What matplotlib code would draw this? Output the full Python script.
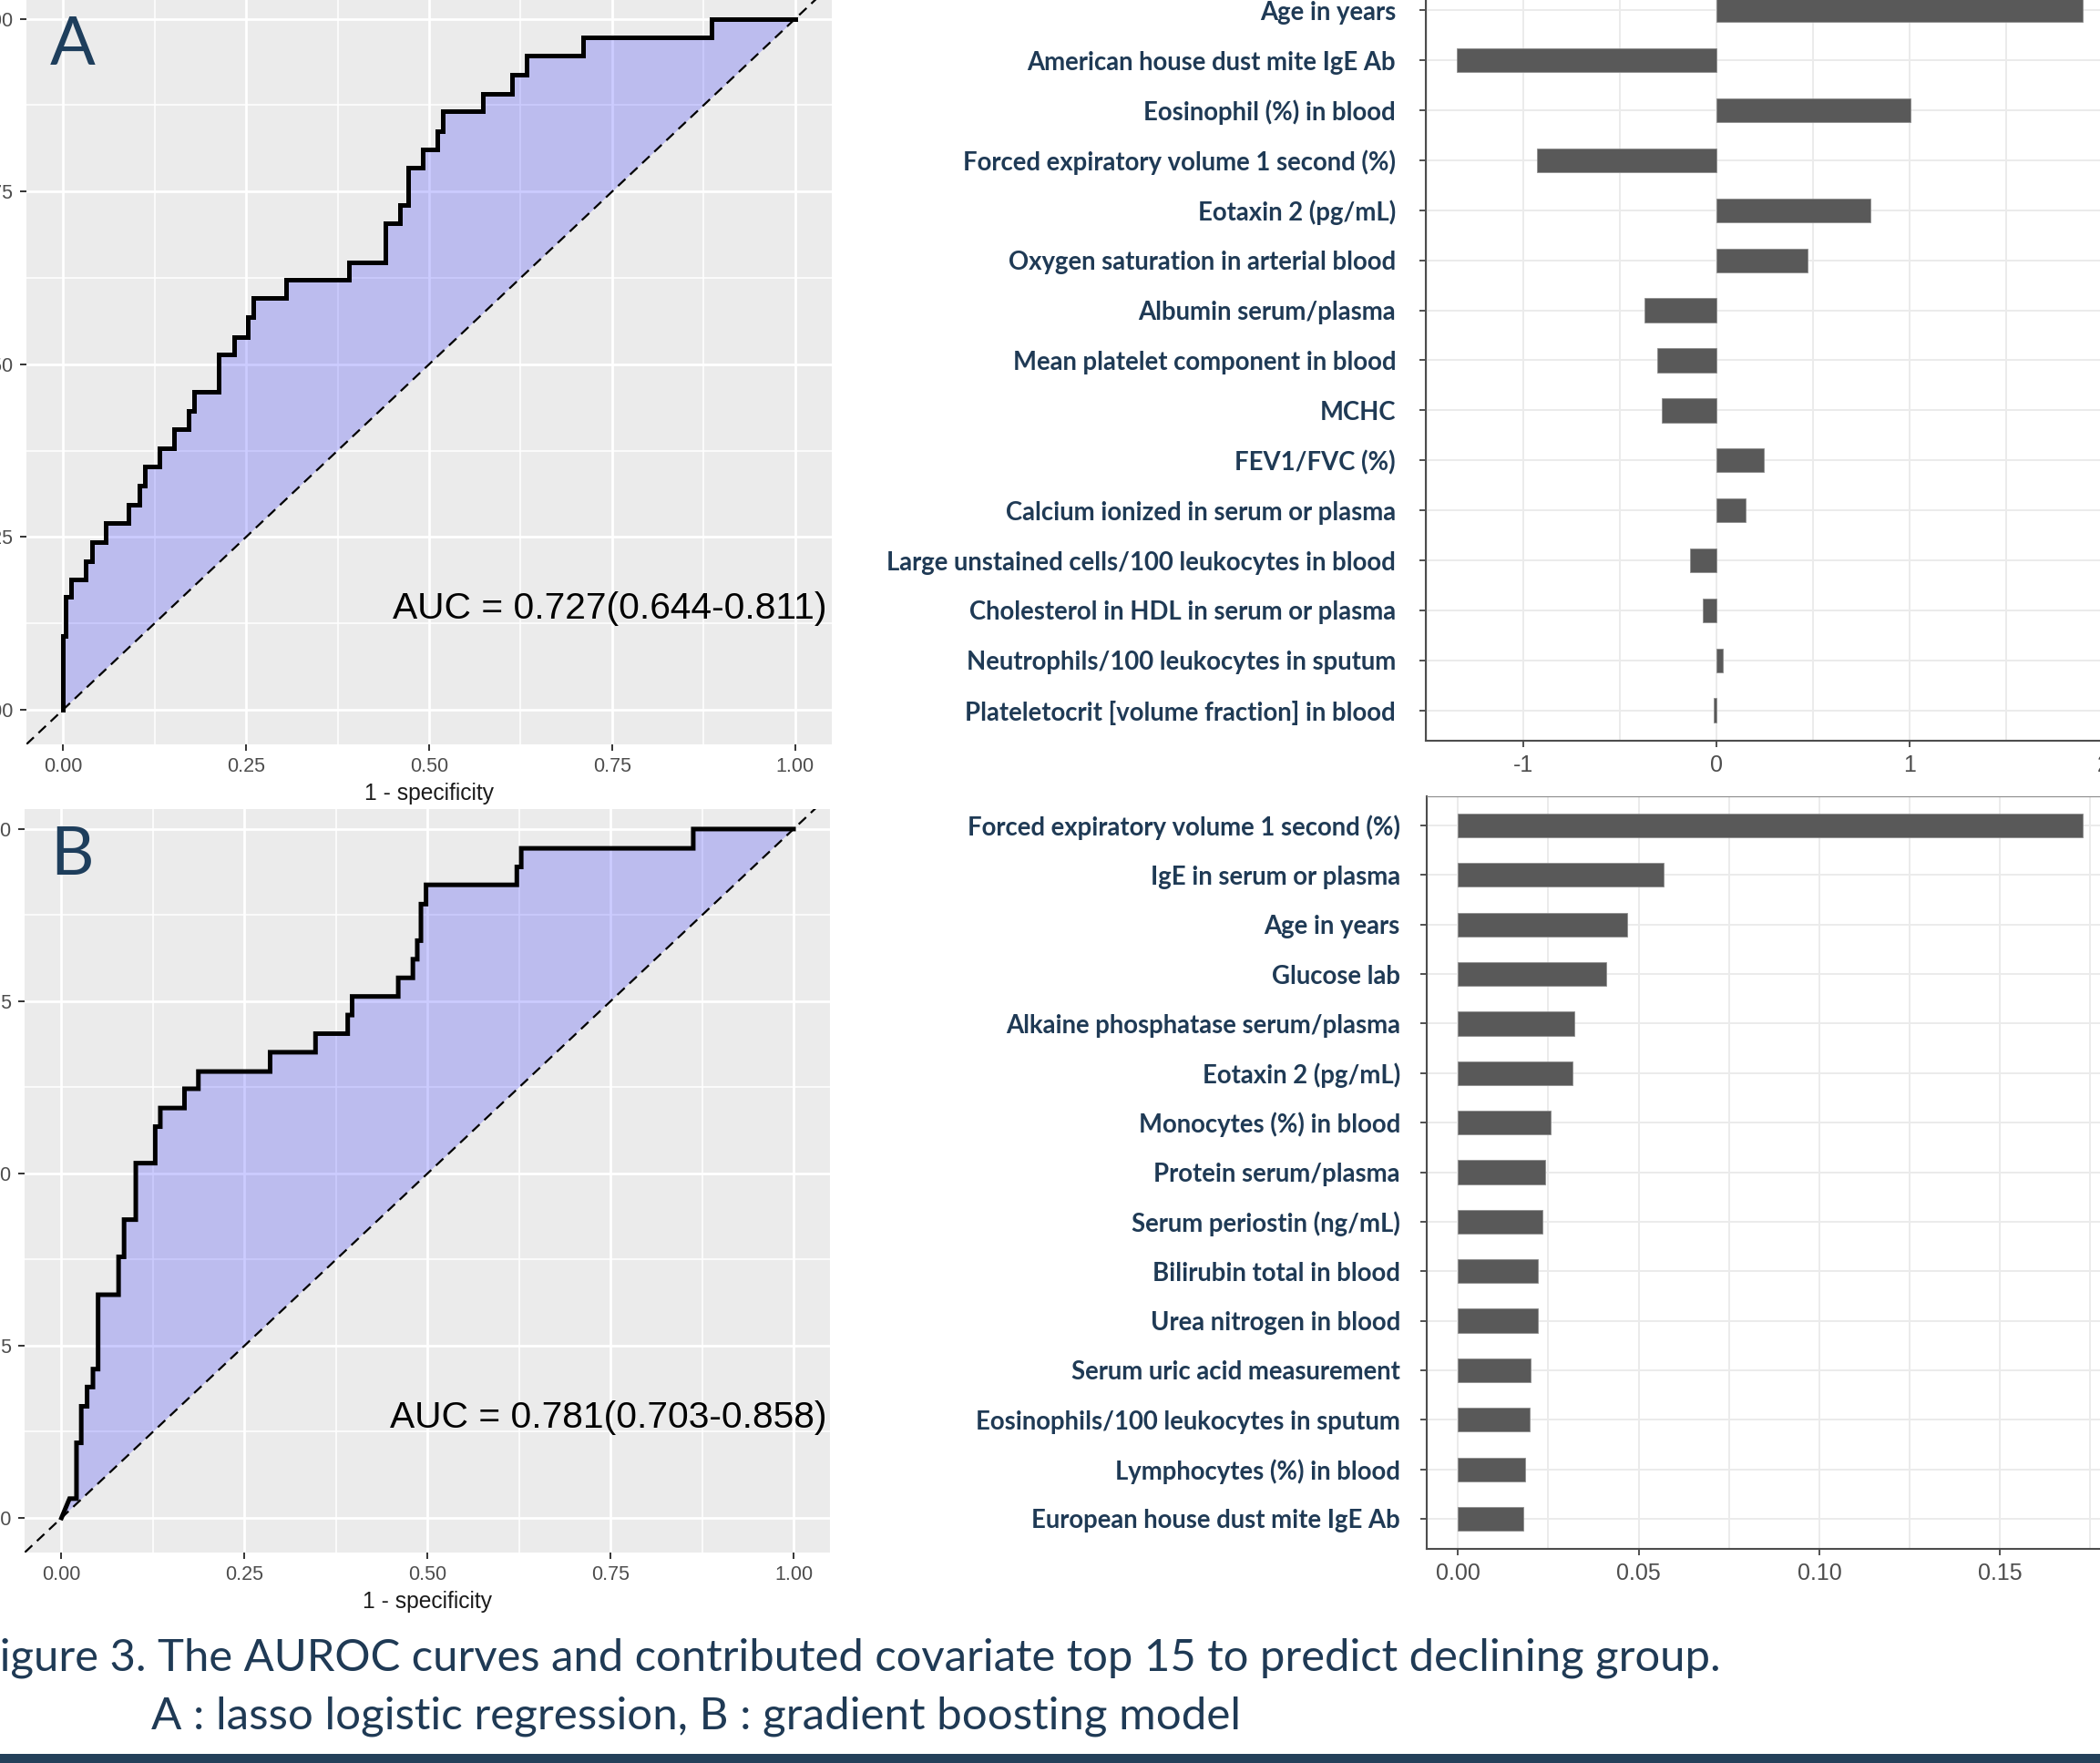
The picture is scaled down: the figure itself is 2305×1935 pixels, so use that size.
import matplotlib
matplotlib.use("Agg")
import matplotlib.pyplot as plt
import numpy as np
from matplotlib.ticker import MultipleLocator, FormatStrFormatter
from matplotlib.patches import Rectangle

# ---- data ----
# ROC A (lasso logistic regression): x where the curve rises, level after the rise
roc_a_fpr = [0.0, 0.004, 0.011, 0.031, 0.039, 0.058, 0.090, 0.104, 0.112, 0.132,
             0.151, 0.172, 0.179, 0.213, 0.234, 0.253, 0.260, 0.305, 0.390, 0.440,
             0.460, 0.472, 0.491, 0.511, 0.519, 0.574, 0.613, 0.633, 0.710, 0.886]
roc_a_tpr = [0.107, 0.163, 0.189, 0.215, 0.243, 0.270, 0.297, 0.324, 0.352, 0.378,
             0.406, 0.433, 0.460, 0.514, 0.540, 0.568, 0.596, 0.622, 0.648, 0.704,
             0.731, 0.785, 0.811, 0.838, 0.866, 0.892, 0.919, 0.947, 0.973, 1.0]
roc_a_start = ([0.0], [0.0])

# ROC B (gradient boosting), starts with a short diagonal (tie)
roc_b_fpr = [0.0205, 0.027, 0.035, 0.043, 0.050, 0.078, 0.0855, 0.1015, 0.128, 0.135,
             0.168, 0.187, 0.285, 0.347, 0.391, 0.397, 0.460, 0.480, 0.486, 0.491,
             0.498, 0.622, 0.628, 0.863]
roc_b_tpr = [0.109, 0.162, 0.190, 0.216, 0.324, 0.379, 0.433, 0.515, 0.568, 0.595,
             0.623, 0.648, 0.676, 0.703, 0.730, 0.757, 0.784, 0.811, 0.838, 0.891,
             0.919, 0.945, 0.972, 1.0]
roc_b_start = ([0.0, 0.011], [0.0, 0.028])

auc_a = "AUC = 0.727(0.644-0.811)"
auc_b = "AUC = 0.781(0.703-0.858)"

lasso_labels = ["Age in years", "American house dust mite IgE Ab", "Eosinophil (%) in blood",
                "Forced expiratory volume 1 second (%)", "Eotaxin 2 (pg/mL)",
                "Oxygen saturation in arterial blood", "Albumin serum/plasma",
                "Mean platelet component in blood", "MCHC", "FEV1/FVC (%)",
                "Calcium ionized in serum or plasma", "Large unstained cells/100 leukocytes in blood",
                "Cholesterol in HDL in serum or plasma", "Neutrophils/100 leukocytes in sputum",
                "Plateletocrit [volume fraction] in blood"]
lasso_coef = [1.896, -1.345, 1.003, -0.930, 0.795, 0.473, -0.371, -0.306, -0.285,
              0.245, 0.151, -0.139, -0.073, 0.033, -0.017]

gbm_labels = ["Forced expiratory volume 1 second (%)", "IgE in serum or plasma", "Age in years",
              "Glucose lab", "Alkaine phosphatase serum/plasma", "Eotaxin 2 (pg/mL)",
              "Monocytes (%) in blood", "Protein serum/plasma", "Serum periostin (ng/mL)",
              "Bilirubin total in blood", "Urea nitrogen in blood", "Serum uric acid measurement",
              "Eosinophils/100 leukocytes in sputum", "Lymphocytes (%) in blood",
              "European house dust mite IgE Ab"]
gbm_importance = [0.1728, 0.0568, 0.0468, 0.0411, 0.0322, 0.0316, 0.0257, 0.0242, 0.0235,
                  0.0222, 0.0222, 0.0202, 0.0198, 0.0187, 0.0181]

caption_1 = "Figure 3. The AUROC curves and contributed covariate top 15 to predict declining group."
caption_2 = "A : lasso logistic regression, B : gradient boosting model"

# ---- figure ----
plt.rcParams['font.family'] = ['Liberation Sans', 'DejaVu Sans']
plt.rcParams['axes.unicode_minus'] = False

W, H = 2305, 1935
fig = plt.figure(figsize=(W / 100.0, H / 100.0), dpi=100)
navy = '#1F3A55'


def px_axes(left, top, right, bottom):
    return fig.add_axes([left / W, 1 - bottom / H, (right - left) / W, (bottom - top) / H])


def roc_path(start, fpr, tpr):
    xs, ys = list(start[0]), list(start[1])
    for f, t in zip(fpr, tpr):
        xs += [f, f]
        ys += [ys[-1], t]
    xs.append(1.0)
    ys.append(ys[-1])
    return xs, ys


def draw_roc(ax, xs, ys, auc_text, ytop):
    ax.set_facecolor('#EBEBEB')
    ax.set_xlim(-0.05, 1.05)
    ax.set_ylim(-0.05, ytop)
    ticks = [0, 0.25, 0.5, 0.75, 1.0]
    ax.set_xticks(ticks)
    ax.set_yticks(ticks)
    ax.xaxis.set_major_formatter(FormatStrFormatter('%.2f'))
    ax.yaxis.set_major_formatter(FormatStrFormatter('%.2f'))
    ax.xaxis.set_minor_locator(MultipleLocator(0.125))
    ax.yaxis.set_minor_locator(MultipleLocator(0.125))
    ax.grid(which='major', color='white', lw=2.0)
    ax.grid(which='minor', color='white', lw=1.1)
    ax.set_axisbelow(True)
    for s in ax.spines.values():
        s.set_visible(False)
    ax.fill(xs, ys, color='blue', alpha=0.2, lw=0, zorder=2)
    ax.plot([-0.05, 1.05], [-0.05, 1.05], color='black', lw=1.6, ls=(0, (5, 3.2)), zorder=3)
    ax.plot(xs, ys, color='black', lw=3.6, zorder=4, solid_joinstyle='miter')
    ax.text(0.747, 0.146, auc_text, ha='center', va='center', fontsize=29.3, color='black', zorder=5)
    ax.tick_params(which='major', length=5, width=1.4, color='#333333', labelsize=15.5,
                   labelcolor='#4D4D4D', pad=5.5)
    ax.tick_params(which='minor', length=0)
    ax.set_xlabel('1 - specificity', fontsize=17.7, color='#1A1A1A', labelpad=4.5)


def draw_bars(ax, labels, values, major, minor, fmt, top_border, pad):
    y = np.arange(len(labels))
    ax.barh(y, values, height=0.48, color='#595959', edgecolor='#8F8F8F', linewidth=0.6, zorder=3)
    lo, hi = min(0, min(values)), max(0, max(values))
    ext = 0.05 * (hi - lo)
    ax.set_xlim(lo - ext, hi + ext)
    ax.set_ylim(len(labels) - 0.4, -0.6)
    ax.set_yticks(y)
    ax.set_yticklabels(labels, family='Lato', fontweight='bold', fontsize=19.8, color=navy)
    ax.xaxis.set_major_locator(MultipleLocator(major))
    ax.xaxis.set_minor_locator(MultipleLocator(minor))
    ax.xaxis.set_major_formatter(FormatStrFormatter(fmt))
    ax.grid(axis='x', which='both', color='#EBEBEB', lw=1.4)
    ax.grid(axis='y', which='major', color='#EBEBEB', lw=1.4)
    ax.set_axisbelow(True)
    ax.spines['right'].set_visible(False)
    ax.spines['top'].set_visible(top_border)
    ax.spines['top'].set_color('#8C8C8C')
    for side in ('left', 'bottom'):
        ax.spines[side].set_color('#4D4D4D')
        ax.spines[side].set_linewidth(1.5)
    ax.tick_params(axis='x', which='major', length=5, width=1.2, color='#333333',
                   labelsize=18, labelcolor='#4D4D4D', pad=6)
    ax.tick_params(axis='y', which='major', length=5, width=1.2, color='#333333', pad=pad)
    ax.tick_params(which='minor', length=0)


# ROC panels
ax_a = px_axes(29.0, -17.2, 912.9, 816.9)
xa, ya = roc_path(roc_a_start, roc_a_fpr, roc_a_tpr)
draw_roc(ax_a, xa, ya, auc_a, 1.05)

ax_b = px_axes(27.3, 888.0, 911.2, 1703.8)
xb, yb = roc_path(roc_b_start, roc_b_fpr, roc_b_tpr)
draw_roc(ax_b, xb, yb, auc_b, 1.029)

# coefficient / importance panels
ax_c = px_axes(1564.5, -21.7, 2320.6, 812.6)
draw_bars(ax_c, lasso_labels, lasso_coef, 1.0, 0.5, '%.0f', False, 18.4)

ax_d = px_axes(1566.0, 873.5, 2320.0, 1699.5)
draw_bars(ax_d, gbm_labels, gbm_importance, 0.05, 0.025, '%.2f', True, 16.0)

# panel letters
fig.text(80 / W, 1 - 71 / H, 'A', family='Lato', fontsize=53, color='#1E3E5C',
         ha='center', va='baseline')
fig.text(79 / W, 1 - 960 / H, 'B', family='Lato', fontsize=53, color='#1E3E5C',
         ha='center', va='baseline')

# caption
fig.text(1889 / W, 1 - 1833 / H, caption_1, family='Lato', fontsize=35.3, color=navy,
         ha='right', va='baseline')
fig.text(166 / W, 1 - 1897 / H, caption_2, family='Lato', fontsize=35.5, color=navy,
         ha='left', va='baseline')

fig.add_artist(Rectangle((0, 0), 1, 10 / H, transform=fig.transFigure,
                         color='#24405A', lw=0))

fig.savefig('out.png', dpi=100)
